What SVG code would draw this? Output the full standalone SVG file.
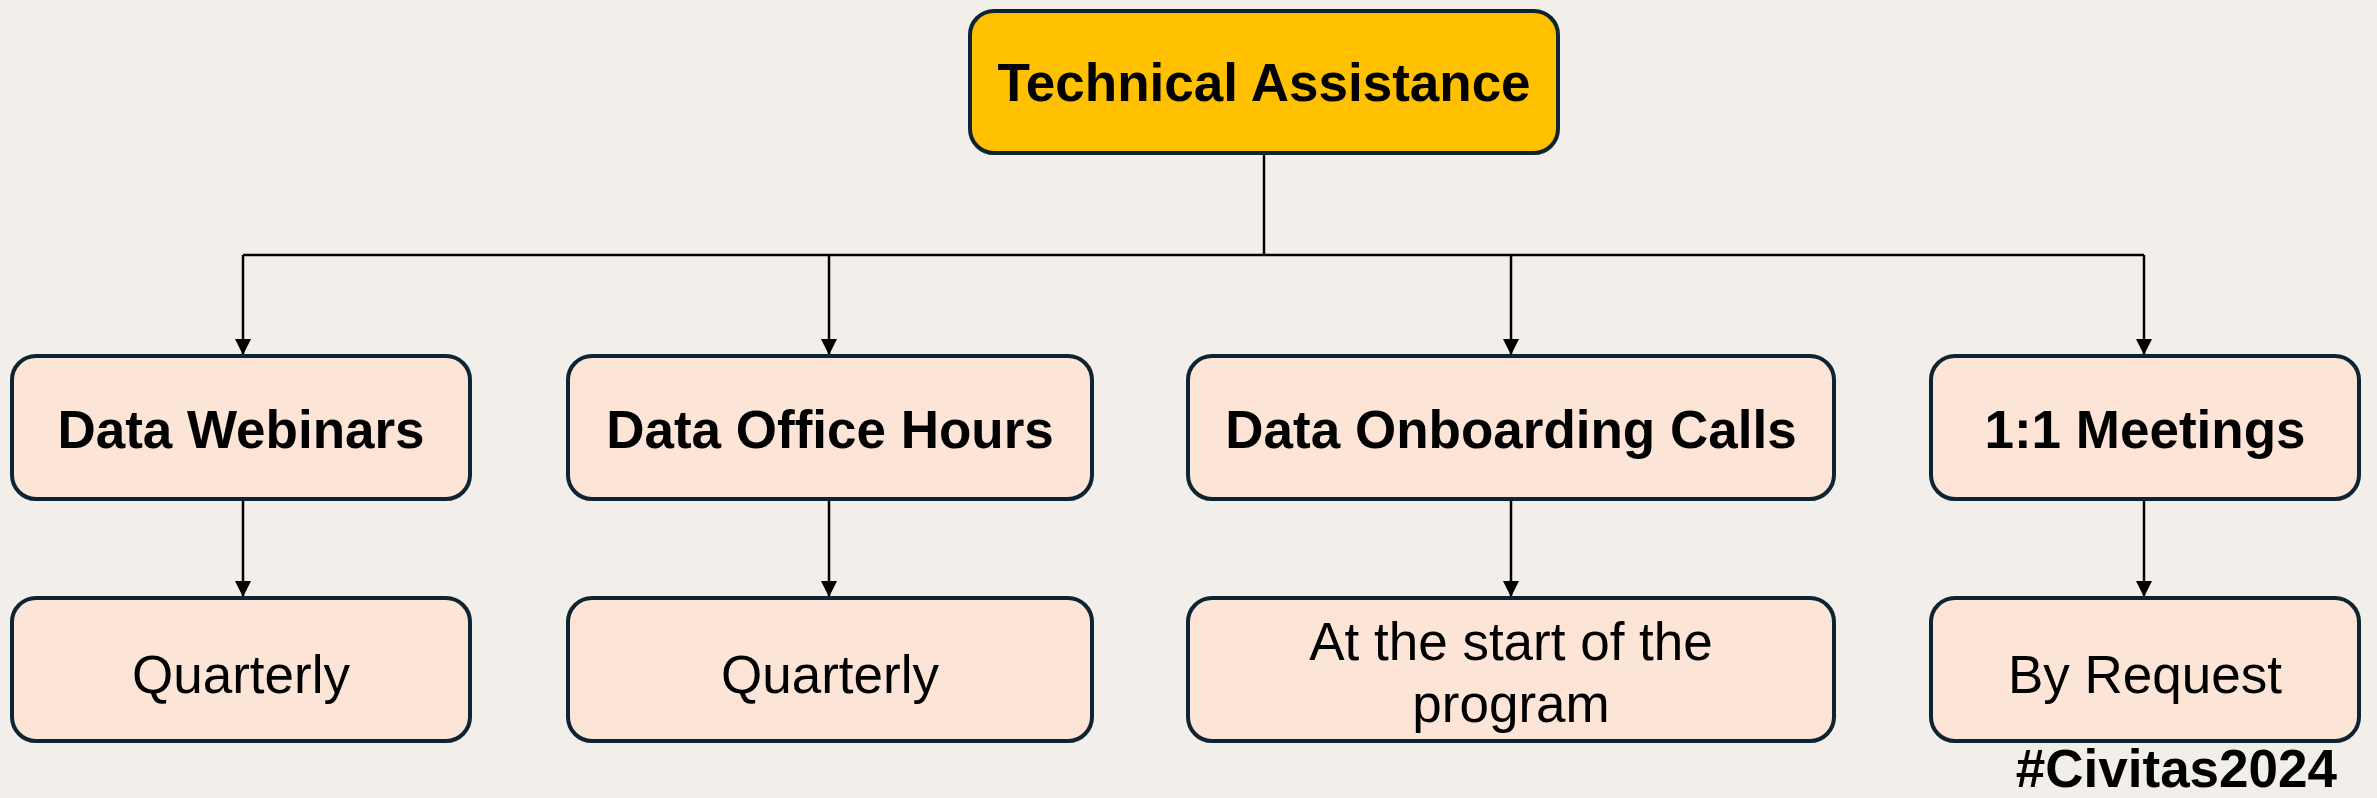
<svg xmlns="http://www.w3.org/2000/svg" width="2377" height="798" viewBox="0 0 2377 798">
  <defs>
    <marker id="arrow" markerUnits="userSpaceOnUse" markerWidth="18" markerHeight="16" viewBox="0 0 18 16" refX="16" refY="8" orient="auto">
      <path d="M0,0 L16,8 L0,16 Z" fill="#000"/>
    </marker>
    <style>
      .box { fill: #fce4d6; stroke: #0d2533; stroke-width: 4; }
      .root { fill: #ffc000; stroke: #0d2533; stroke-width: 4; }
      .bold { font-family: "Liberation Sans", Arial, sans-serif; font-weight: bold; font-size: 53px; fill: #000; text-anchor: middle; }
      .reg { font-family: "Liberation Sans", Arial, sans-serif; font-size: 53px; fill: #000; text-anchor: middle; }
      .wire { fill: none; stroke: #000; stroke-width: 2.5; }
    </style>
  </defs>

  <rect width="2377" height="798" fill="#f2efea"/>

  <!-- connectors -->
  <g id="connectors">
    <path class="wire" d="M1264,153 V255"/>
    <path class="wire" d="M243,255 H2144"/>
    <path class="wire" d="M243,255 V355" marker-end="url(#arrow)"/>
    <path class="wire" d="M829,255 V355" marker-end="url(#arrow)"/>
    <path class="wire" d="M1511,255 V355" marker-end="url(#arrow)"/>
    <path class="wire" d="M2144,255 V355" marker-end="url(#arrow)"/>
    <path class="wire" d="M243,499 V597" marker-end="url(#arrow)"/>
    <path class="wire" d="M829,499 V597" marker-end="url(#arrow)"/>
    <path class="wire" d="M1511,499 V597" marker-end="url(#arrow)"/>
    <path class="wire" d="M2144,499 V597" marker-end="url(#arrow)"/>
  </g>

  <!-- root -->
  <g id="technical-assistance">
    <rect class="root" x="970" y="11" width="588" height="142" rx="24"/>
    <text class="bold" x="1264" y="101">Technical Assistance</text>
  </g>

  <!-- services -->
  <g id="data-webinars">
    <rect class="box" x="12" y="356" width="458" height="143" rx="24"/>
    <text class="bold" x="241" y="448">Data Webinars</text>
  </g>
  <g id="data-office-hours">
    <rect class="box" x="568" y="356" width="524" height="143" rx="24"/>
    <text class="bold" x="830" y="448">Data Office Hours</text>
  </g>
  <g id="data-onboarding-calls">
    <rect class="box" x="1188" y="356" width="646" height="143" rx="24"/>
    <text class="bold" x="1511" y="448">Data Onboarding Calls</text>
  </g>
  <g id="one-on-one-meetings">
    <rect class="box" x="1931" y="356" width="428" height="143" rx="24"/>
    <text class="bold" x="2145" y="448">1:1 Meetings</text>
  </g>

  <!-- frequencies -->
  <g id="webinars-frequency">
    <rect class="box" x="12" y="598" width="458" height="143" rx="24"/>
    <text class="reg" x="241" y="693">Quarterly</text>
  </g>
  <g id="office-hours-frequency">
    <rect class="box" x="568" y="598" width="524" height="143" rx="24"/>
    <text class="reg" x="830" y="693">Quarterly</text>
  </g>
  <g id="onboarding-frequency">
    <rect class="box" x="1188" y="598" width="646" height="143" rx="24"/>
    <text class="reg" x="1511" y="660">At the start of the</text>
    <text class="reg" x="1511" y="722">program</text>
  </g>
  <g id="meetings-frequency">
    <rect class="box" x="1931" y="598" width="428" height="143" rx="24"/>
    <text class="reg" x="2145" y="693">By Request</text>
  </g>

  <text class="bold" x="2337" y="787" style="text-anchor: end">#Civitas2024</text>
</svg>
